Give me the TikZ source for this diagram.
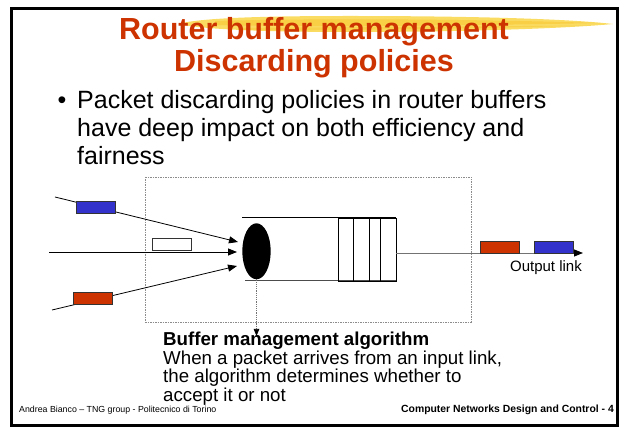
\documentclass[tikz,border=0pt]{standalone}
\usepackage{fontspec}
\setmainfont{Liberation Sans}
\usetikzlibrary{arrows.meta,shapes.geometric}

\definecolor{titlered}{RGB}{204,51,0}
\definecolor{pktred}{RGB}{204,51,0}
\definecolor{pktblue}{RGB}{51,51,204}
\definecolor{marker}{RGB}{250,214,70}
\definecolor{markerdark}{RGB}{245,192,35}

\newcommand{\fsz}[1]{\fontsize{#1}{#1}\selectfont}

\begin{document}
\begin{tikzpicture}[x=1pt,y=-1pt,
  titletext/.style={anchor=base, text=titlered, font=\fsz{30.5}\bfseries, inner sep=0pt},
  bodytext/.style={anchor=base west, font=\fsz{25}, inner sep=0pt},
  notetext/.style={anchor=base west, font=\fsz{18.7}, inner sep=0pt},
  foottext/.style={inner sep=0pt},
  pkt/.style={draw=black!80, line width=0.8pt, minimum width=39pt, minimum height=12pt,
              inner sep=0pt, outer sep=0pt},
  inlink/.style={line width=0.8pt, -{Triangle[length=9pt,width=7pt]}},
  queueline/.style={line width=1pt},
  routerbox/.style={draw=black!45, line width=0.8pt, dash pattern=on 1.5pt off 1pt},
]
\useasboundingbox (0,0) rectangle (625,427);

% slide frame
\draw[line width=3pt] (11.5,8.5) rectangle (617.5,425.5);

% highlighter stroke behind the title
\fill[marker, opacity=0.85] (178,24) .. controls (200,18) and (260,16) .. (350,16)
   .. controls (450,16) and (560,18) .. (613,24)
   .. controls (560,29) and (450,32) .. (350,32)
   .. controls (260,32) and (200,29) .. (178,24) -- cycle;
\fill[markerdark, opacity=0.45] (215,21) .. controls (300,18.5) and (450,18.5) .. (600,23)
   .. controls (450,26) and (300,27) .. (215,25) -- cycle;
\fill[markerdark, opacity=0.35] (240,28) .. controls (330,27) and (470,26.5) .. (590,25.5)
   .. controls (470,29) and (330,30.5) .. (240,30) -- cycle;

% title
\node[titletext] (title1) at (314,40) {Router buffer management};
\node[titletext] (title2) at (314,72) {Discarding policies};

% bullet text
\node[anchor=base, font=\fsz{25}, inner sep=0pt] (dot) at (62,108.5) {•};
\node[bodytext] (line1) at (77,108.5) {Packet discarding policies in router buffers};
\node[bodytext] (line2) at (77,136.5) {have deep impact on both efficiency and};
\node[bodytext] (line3) at (77,164.5) {fairness};

% router boundary
\draw[routerbox] (145,177) rectangle (471,322);

% queue
\draw[queueline] (242,218) -- (396,218);
\draw[queueline, draw=black!70] (245,281) -- (396,281);
\draw[line width=0.9pt] (338,218) rectangle (396,281);
\draw[line width=0.9pt] (353,218) -- (353,281);
\draw[line width=0.9pt] (369,218) -- (369,281);
\draw[line width=0.9pt] (380,218) -- (380,281);

% discarding element
\node[ellipse, fill=black, minimum width=28.4pt, minimum height=56pt, inner sep=0pt] (disc) at (256.5,251.3) {};

% input links
\coordinate (inA) at (55,197);
\coordinate (tipA) at (238,242);
\coordinate (inB) at (49,252);
\coordinate (tipB) at (237,252);
\coordinate (inC) at (52,310);
\coordinate (tipC) at (237,266);
\draw[inlink] (inA) -- (tipA);
\draw[inlink] (inB) -- (tipB);
\draw[inlink] (inC) -- (tipC);

\node[pkt, fill=pktblue] (pktA) at (95.5,207) {};
\node[pkt, fill=white] (pktB) at (172,244) {};
\node[pkt, fill=pktred] (pktC) at (92.5,298) {};

% output link
\coordinate (qout) at (396,253);
\coordinate (outtip) at (583,253);
\draw[line width=0.9pt, draw=black!55, -{Triangle[length=9pt,width=7pt,color=black]}] (qout) -- (outtip);
\node[pkt, fill=pktred] (outC) at (499.5,247) {};
\node[pkt, fill=pktblue] (outA) at (553.5,247) {};
\node[anchor=base east, font=\fsz{15}, inner sep=0pt] (outlabel) at (582,272) {Output link};

% pointer to the algorithm description
\coordinate (notetip) at (256.5,336);
\draw[line width=0.7pt, draw=black!55, dash pattern=on 1.2pt off 1pt,
      -{Triangle[length=7pt,width=5.5pt,color=black]}] (disc.south) -- (notetip);

\node[notetext, font=\fsz{18.7}\bfseries] (note0) at (163,346) {Buffer management algorithm};
\node[notetext] (note1) at (163,364.5) {When a packet arrives from an input link,};
\node[notetext] (note2) at (163,383) {the algorithm determines whether to};
\node[notetext] (note3) at (163,401.5) {accept it or not};

% footer
\node[foottext, anchor=base west, font=\fsz{8.8}] (footl) at (19,413) {Andrea Bianco – TNG group - Politecnico di Torino};
\node[foottext, anchor=base east, font=\fsz{10.4}\bfseries] (footr) at (614,413) {Computer Networks Design and Control - 4};
\end{tikzpicture}
\end{document}
